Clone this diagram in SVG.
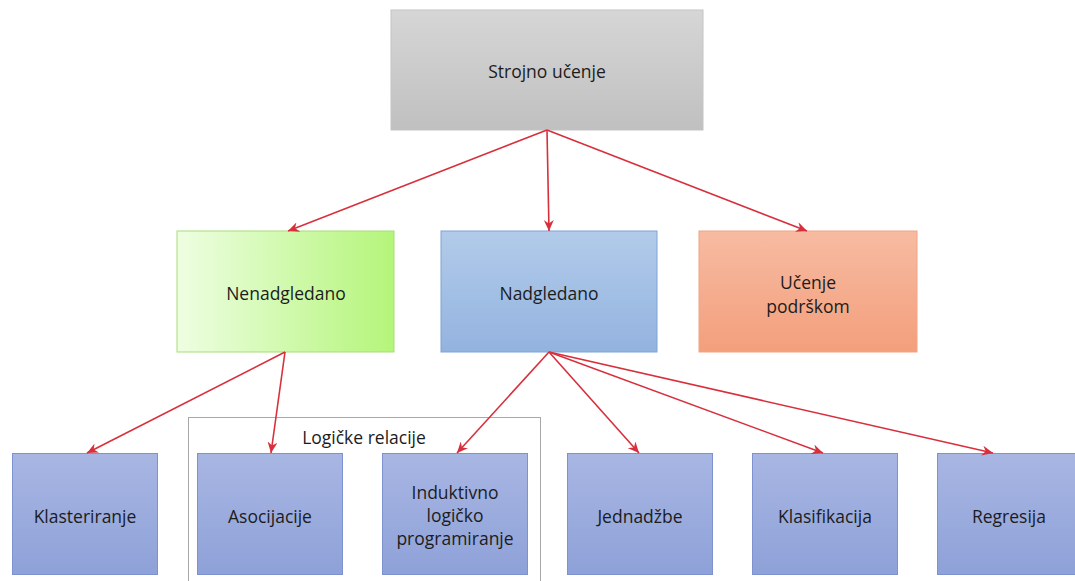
<svg xmlns="http://www.w3.org/2000/svg" width="1075" height="581" viewBox="0 0 1075 581">
<defs>
<linearGradient id="gGray" x1="0" y1="0" x2="0" y2="1"><stop offset="0" stop-color="#d6d6d6"/><stop offset="1" stop-color="#c0c0c0"/></linearGradient>
<linearGradient id="gGreen" x1="0" y1="0" x2="1" y2="0"><stop offset="0" stop-color="#eefee2"/><stop offset="1" stop-color="#b4f57a"/></linearGradient>
<linearGradient id="gBlue" x1="0" y1="0" x2="0" y2="1"><stop offset="0" stop-color="#b2cbea"/><stop offset="1" stop-color="#93b3df"/></linearGradient>
<linearGradient id="gSalmon" x1="0" y1="0" x2="0" y2="1"><stop offset="0" stop-color="#f7bba2"/><stop offset="1" stop-color="#f39f7c"/></linearGradient>
<linearGradient id="gPurple" x1="0" y1="0" x2="0" y2="1"><stop offset="0" stop-color="#a8b6e3"/><stop offset="1" stop-color="#8ea1d8"/></linearGradient>
<marker id="arr" viewBox="0 0 12 10" refX="11" refY="5" markerWidth="12" markerHeight="10" markerUnits="userSpaceOnUse" orient="auto">
<path d="M0,0 L11,5 L0,10 L3.5,5 Z" fill="#d7303c"/>
</marker>
</defs>
<style>
.t{font-family:"Open Sans","Liberation Sans",sans-serif;font-size:17.5px;fill:#1c1c1c;text-anchor:middle;dominant-baseline:central}
.c{fill:none;stroke:#d7303c;stroke-width:1.6;marker-end:url(#arr)}
.b{fill:url(#gPurple);stroke:#7e92cf;stroke-width:1}
</style>
<rect width="1075" height="581" fill="#ffffff"/>
<g id="group-logicke">
<rect x="188.5" y="417.5" width="352" height="170" fill="none" stroke="#a8a8a8" stroke-width="1"/>
<text class="t" x="364" y="437">Logičke relacije</text>
</g>
<g id="node-strojno">
<rect x="391" y="10" width="312" height="120" fill="url(#gGray)" stroke="#c4c4c4" stroke-width="1"/>
<text class="t" x="547" y="71">Strojno učenje</text>
</g>
<g id="node-nenadgledano">
<rect x="177" y="231" width="217" height="121" fill="url(#gGreen)" stroke="#a5dd78" stroke-width="1"/>
<text class="t" x="286" y="293">Nenadgledano</text>
</g>
<g id="node-nadgledano">
<rect x="441" y="231" width="216" height="121" fill="url(#gBlue)" stroke="#7da4d6" stroke-width="1"/>
<text class="t" x="549" y="293">Nadgledano</text>
</g>
<g id="node-ucenje">
<rect x="699" y="231" width="218" height="121" fill="url(#gSalmon)" stroke="#f0a583" stroke-width="1"/>
<text class="t" x="808" y="282">Učenje</text>
<text class="t" x="808" y="306">podrškom</text>
</g>
<g id="node-klasteriranje">
<rect class="b" x="12.5" y="453.5" width="145" height="121"/>
<text class="t" x="85" y="516">Klasteriranje</text>
</g>
<g id="node-asocijacije">
<rect class="b" x="197.5" y="453.5" width="145" height="121"/>
<text class="t" x="270" y="516">Asocijacije</text>
</g>
<g id="node-induktivno">
<rect class="b" x="382.5" y="453.5" width="145" height="121"/>
<text class="t" x="455" y="492">Induktivno</text>
<text class="t" x="455" y="515">logičko</text>
<text class="t" x="455" y="538">programiranje</text>
</g>
<g id="node-jednadzbe">
<rect class="b" x="567.5" y="453.5" width="145" height="121"/>
<text class="t" x="640" y="516">Jednadžbe</text>
</g>
<g id="node-klasifikacija">
<rect class="b" x="752.5" y="453.5" width="145" height="121"/>
<text class="t" x="825" y="516">Klasifikacija</text>
</g>
<g id="node-regresija">
<rect class="b" x="937.5" y="453.5" width="145" height="121"/>
<text class="t" x="1009" y="516">Regresija</text>
</g>
<g id="connectors">
<line class="c" x1="547" y1="130" x2="288" y2="231"/>
<line class="c" x1="547" y1="130" x2="549" y2="231"/>
<line class="c" x1="547" y1="130" x2="807" y2="231"/>
<line class="c" x1="285" y1="352" x2="87" y2="453"/>
<line class="c" x1="285" y1="352" x2="271" y2="453"/>
<line class="c" x1="549" y1="352" x2="457" y2="453"/>
<line class="c" x1="549" y1="352" x2="639" y2="453"/>
<line class="c" x1="549" y1="352" x2="823" y2="453"/>
<line class="c" x1="549" y1="352" x2="993" y2="453"/>
</g>
</svg>
